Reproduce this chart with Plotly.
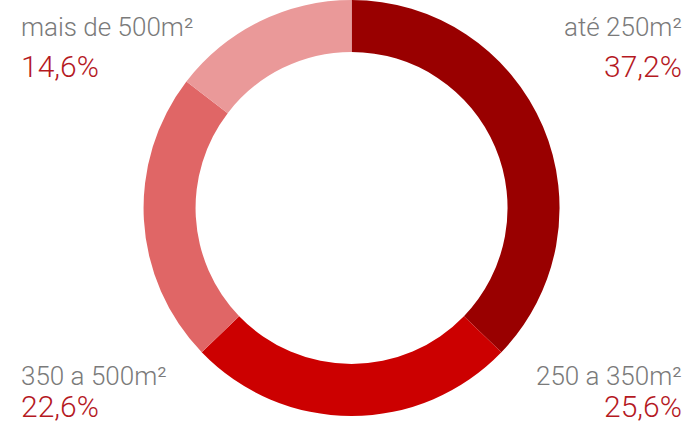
import plotly.graph_objects as go

categories = ["até 250m²", "250 a 350m²", "350 a 500m²", "mais de 500m²"]
values = [37.2, 25.6, 22.6, 14.6]
pct_text = ["37,2%", "25,6%", "22,6%", "14,6%"]
colors = ["#990000", "#cc0000", "#e06666", "#ea9999"]

fig = go.Figure(go.Pie(
    labels=categories, values=values, sort=False, direction="clockwise",
    rotation=0, hole=0.75, textinfo="none", hoverinfo="label+percent",
    marker=dict(colors=colors, line=dict(width=0)),
    domain=dict(x=[0.208, 0.811], y=[0.0235, 1.0]),
    showlegend=False,
))

# label corners: (x, y_label, y_pct, pct_yanchor, anchor)
pos = [(0.992, 0.936, 0.845, "middle", "right"), (0.992, 0.118, 0.0, "bottom", "right"),
       (0.028, 0.118, 0.0, "bottom", "left"), (0.028, 0.936, 0.845, "middle", "left")]
ann = []
for (x, yl, yp, ya, anc), lab, pt in zip(pos, categories, pct_text):
    ann.append(dict(x=x, y=yl, xref="paper", yref="paper", text=lab, showarrow=False,
                    xanchor=anc, yanchor="middle",
                    font=dict(family="Roboto", size=26, color="#7a7a7a", weight=300)))
    ann.append(dict(x=x, y=yp, xref="paper", yref="paper", text=pt, showarrow=False,
                    xanchor=anc, yanchor=ya,
                    font=dict(family="Roboto", size=30, color="#b5191f", weight=300)))

fig.update_layout(width=690, height=426, margin=dict(l=0, r=0, t=0, b=0),
                  paper_bgcolor="white", plot_bgcolor="white", annotations=ann)
fig.write_html("out.html")
